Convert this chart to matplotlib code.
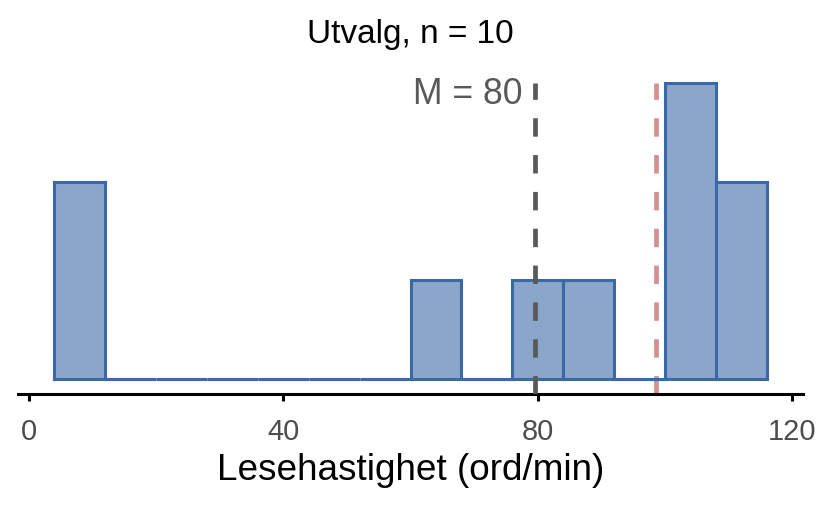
import numpy as np
import matplotlib
matplotlib.use("Agg")
import matplotlib.pyplot as plt

plt.rcParams['font.family'] = ['Liberation Sans', 'DejaVu Sans']

# Sample of reading speeds (ord/min)
values = [8, 11, 66, 82, 90, 104, 106, 107, 110, 112]
bin_edges = np.arange(4, 117, 8)
pop_mean = 98.6
x_ticks = [0, 40, 80, 120]

title = f"Utvalg, n = {len(values)}"
xlabel = "Lesehastighet (ord/min)"

fill_col = '#8AA6CB'
edge_col = '#3B69A6'
mean_col = '#595959'
pop_col = '#D48F92'

fig = plt.figure(figsize=(8.22, 5.08), dpi=100)
ax = fig.add_axes([0.0223, 0.2244, 0.9542, 0.6417])

counts, _, _ = ax.hist(values, bins=bin_edges, color=fill_col,
                       edgecolor=edge_col, linewidth=2.2, zorder=2)

m = np.mean(values)
top = counts.max()
ax.vlines(m, -0.15, top, colors=mean_col, linewidth=3.4,
          linestyles=(0, (3.9, 3.9)), zorder=3)
ax.vlines(pop_mean, -0.15, top, colors=pop_col, linewidth=3.4,
          linestyles=(0, (3.9, 3.9)), zorder=1)
ax.text(m - 2.0, top - 0.12, f"M = {m:.0f}", ha='right', va='center',
        fontsize=25.7, color=mean_col)

span = bin_edges[-1] - bin_edges[0]
ax.set_xlim(bin_edges[0] - 0.05 * span, bin_edges[-1] + 0.05 * span)
ax.set_ylim(-0.05 * top, top * 1.05)

ax.set_xticks(x_ticks)
ax.set_yticks([])
ax.tick_params(axis='x', length=5, width=2.2, colors='black',
               labelcolor='#4D4D4D', labelsize=20.9, pad=12.5)
for s in ['left', 'right', 'top']:
    ax.spines[s].set_visible(False)
ax.spines['bottom'].set_linewidth(2.2)
ax.spines['bottom'].set_color('black')

ax.set_xlabel(xlabel, fontsize=26.6, labelpad=5)
ax.set_title(title, fontsize=24, pad=18)

fig.savefig("out.png", dpi=100)
